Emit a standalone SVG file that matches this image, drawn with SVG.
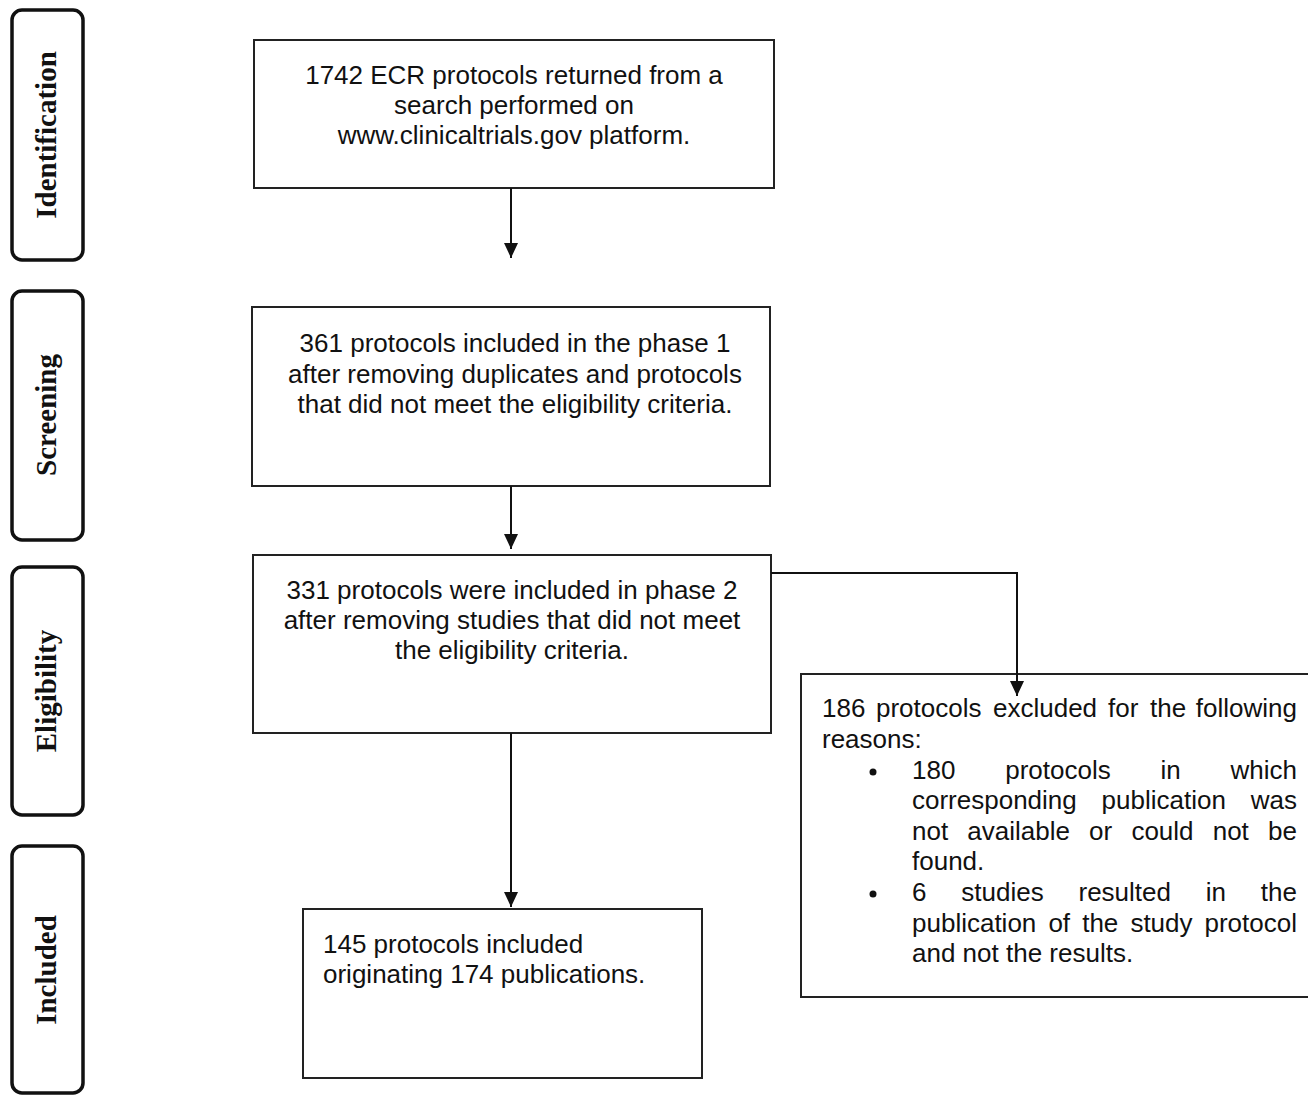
<svg xmlns="http://www.w3.org/2000/svg" width="1308" height="1095" viewBox="0 0 1308 1095">
<style>
.stage{fill:#fff;stroke:#111;stroke-width:3.5}
.stxt{font-family:"Liberation Serif",serif;font-weight:bold;font-size:29px;fill:#111}
.box{fill:#fff;stroke:#222;stroke-width:2}
.t{font-family:"Liberation Sans",Arial,sans-serif;font-size:26px;fill:#111}
.c{text-anchor:middle}
.e{text-anchor:end}
.conn{fill:none;stroke:#111;stroke-width:2}
</style>
<defs>
<marker id="ah" markerUnits="userSpaceOnUse" markerWidth="15" markerHeight="14" viewBox="0 0 15 14" refX="15" refY="7" orient="auto">
<path d="M0,0 L15,7 L0,14 z" fill="#111"/>
</marker>
</defs>
<rect width="1308" height="1095" fill="#fff"/>
<g id="stage-identification"><rect class="stage" x="12" y="10" width="71" height="250" rx="10"/><text class="stxt c" transform="translate(56,135) rotate(-90)">Identification</text></g>
<g id="stage-screening"><rect class="stage" x="12" y="291" width="71" height="249" rx="10"/><text class="stxt c" transform="translate(56,415) rotate(-90)">Screening</text></g>
<g id="stage-eligibility"><rect class="stage" x="12" y="567" width="71" height="248" rx="10"/><text class="stxt c" transform="translate(56,691) rotate(-90)">Eligibility</text></g>
<g id="stage-included"><rect class="stage" x="12" y="846" width="71" height="247" rx="10"/><text class="stxt c" transform="translate(56,970) rotate(-90)">Included</text></g>

<g id="node-identified"><rect class="box" x="254" y="40" width="520" height="148"/>
<text class="t c" x="514" y="84">1742 ECR protocols returned from a</text>
<text class="t c" x="514" y="114">search performed on</text>
<text class="t c" x="514" y="144">www.clinicaltrials.gov platform.</text></g>

<g id="node-screened"><rect class="box" x="252" y="307" width="518" height="179"/>
<text class="t c" x="515" y="352">361 protocols included in the phase 1</text>
<text class="t c" x="515" y="383">after removing duplicates and protocols</text>
<text class="t c" x="515" y="413">that did not meet the eligibility criteria.</text></g>

<g id="node-eligible"><rect class="box" x="253" y="555" width="518" height="178"/>
<text class="t c" x="512" y="599">331 protocols were included in phase 2</text>
<text class="t c" x="512" y="629">after removing studies that did not meet</text>
<text class="t c" x="512" y="659">the eligibility criteria.</text></g>

<g id="node-included"><rect class="box" x="303" y="909" width="399" height="169"/>
<text class="t" x="323" y="953">145 protocols included</text>
<text class="t" x="323" y="983">originating 174 publications.</text></g>

<g id="node-excluded"><rect class="box" x="801" y="674" width="512" height="323"/>
<text class="t" y="717"><tspan x="822">186</tspan><tspan x="876">protocols</tspan><tspan x="993">excluded</tspan><tspan x="1108">for</tspan><tspan x="1150">the</tspan><tspan x="1297" class="e">following</tspan></text>
<text class="t" x="822" y="748">reasons:</text>
<circle cx="873" cy="772" r="3.5" fill="#111"/>
<text class="t" y="779"><tspan x="912">180</tspan><tspan x="1005.2">protocols</tspan><tspan x="1160.5">in</tspan><tspan x="1297" class="e">which</tspan></text>
<text class="t" y="809"><tspan x="912">corresponding</tspan><tspan x="1101.6">publication</tspan><tspan x="1297" class="e">was</tspan></text>
<text class="t" y="840"><tspan x="912">not</tspan><tspan x="967.3">available</tspan><tspan x="1089.1">or</tspan><tspan x="1131.4">could</tspan><tspan x="1212.7">not</tspan><tspan x="1297" class="e">be</tspan></text>
<text class="t" x="912" y="870">found.</text>
<circle cx="873" cy="894" r="3.5" fill="#111"/>
<text class="t" y="901"><tspan x="912">6</tspan><tspan x="961.3">studies</tspan><tspan x="1078.5">resulted</tspan><tspan x="1205.8">in</tspan><tspan x="1297" class="e">the</tspan></text>
<text class="t" y="932"><tspan x="912">publication</tspan><tspan x="1048.4">of</tspan><tspan x="1082.2">the</tspan><tspan x="1130.4">study</tspan><tspan x="1297" class="e">protocol</tspan></text>
<text class="t" x="912" y="962">and not the results.</text></g>

<g id="connectors">
<line class="conn" x1="511" y1="188" x2="511" y2="258" marker-end="url(#ah)"/>
<line class="conn" x1="511" y1="486" x2="511" y2="549" marker-end="url(#ah)"/>
<line class="conn" x1="511" y1="733" x2="511" y2="907" marker-end="url(#ah)"/>
<path class="conn" d="M771,573 H1017 V696" marker-end="url(#ah)"/>
</g>
</svg>
